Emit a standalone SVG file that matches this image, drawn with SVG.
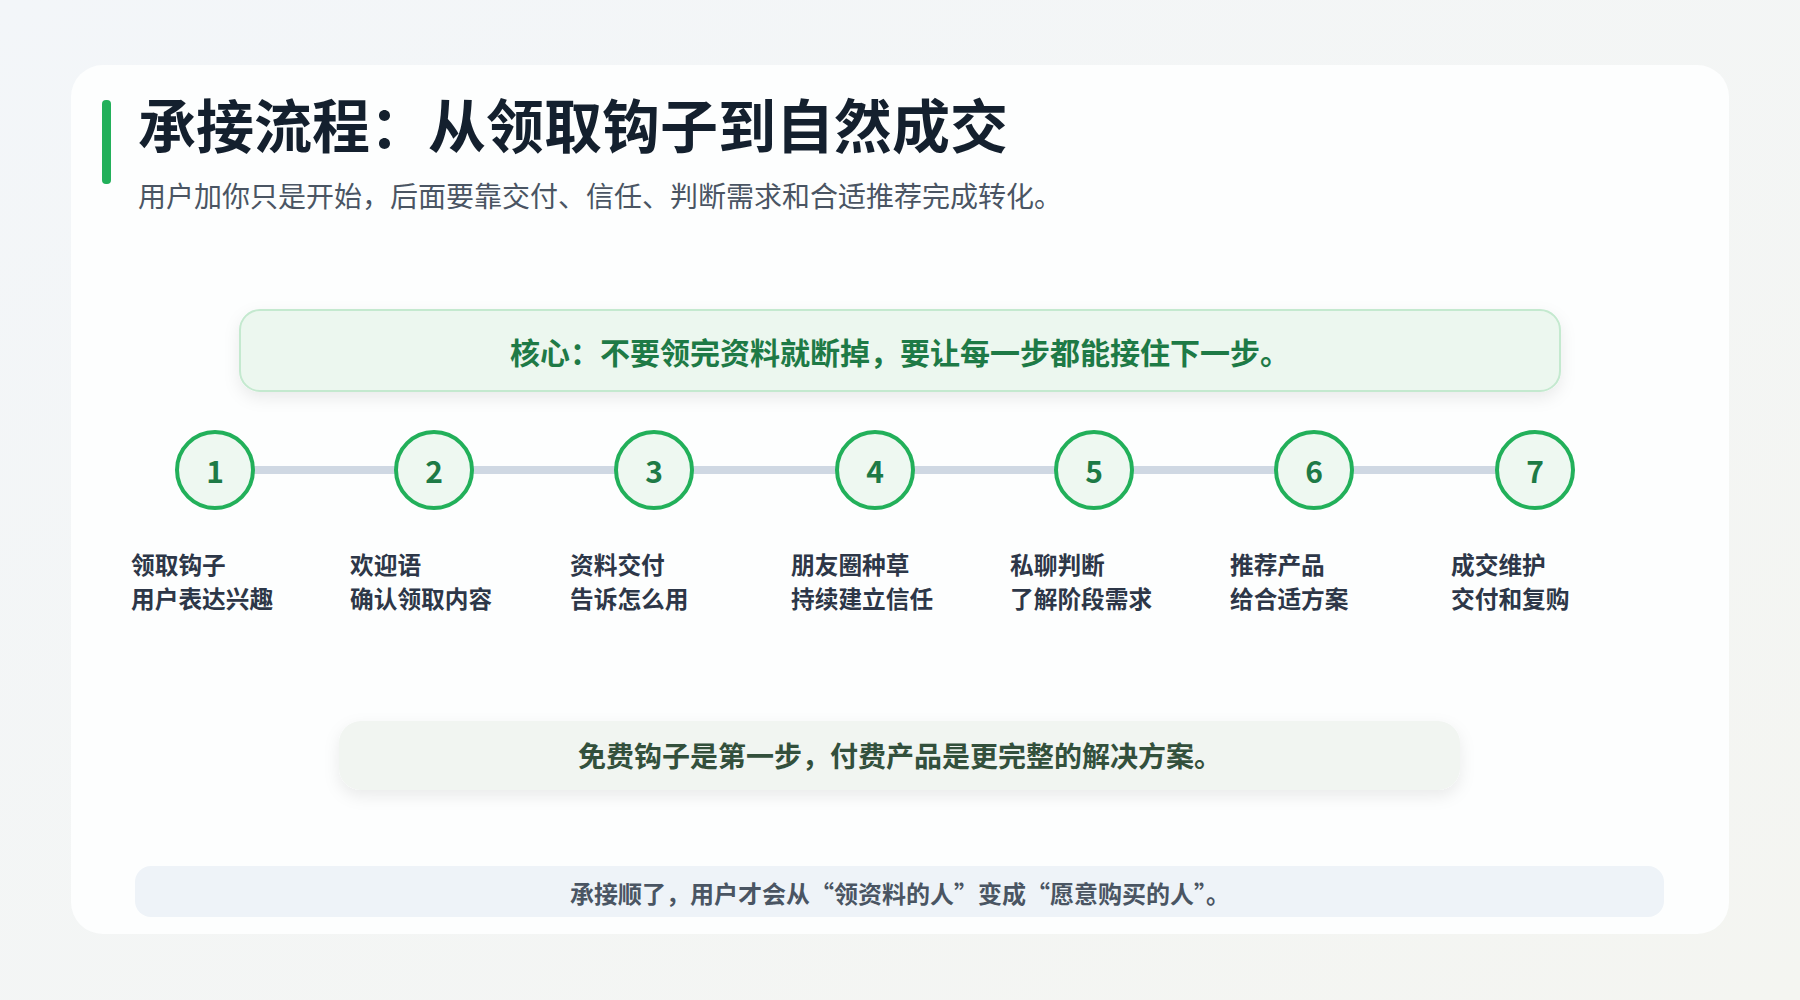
<svg xmlns="http://www.w3.org/2000/svg" width="1800" height="1000" viewBox="0 0 1800 1000">
<defs>
<linearGradient id="bg" x1="0" y1="0" x2="1" y2="1"><stop offset="0" stop-color="#f3f6f9"/><stop offset="1" stop-color="#f4f5f1"/></linearGradient>
<filter id="sh" x="-10%" y="-30%" width="120%" height="160%"><feDropShadow dx="0" dy="6" stdDeviation="8" flood-color="#000" flood-opacity="0.08"/></filter>
<style>
text{font-family:"Noto Sans CJK SC","Noto Sans",sans-serif}
.num{font-size:30px;font-weight:700;fill:#1e7a46;text-anchor:middle;dominant-baseline:central}
.c{fill:#eef8f1;stroke:#22b05a;stroke-width:4}
.lb{font-size:23.7px;font-weight:700;fill:#2d3748}
</style>
</defs>
<rect width="1800" height="1000" fill="url(#bg)"/>
<rect x="71" y="65" width="1658" height="869" rx="32" fill="#fdfefe"/>
<rect x="102" y="100" width="9" height="84" rx="4" fill="#22b05a"/>
<text x="138" y="148" font-size="58" font-weight="700" fill="#14202e">承接流程：从领取钩子到自然成交</text>
<text x="138" y="207" font-size="28" fill="#4a5563">用户加你只是开始，后面要靠交付、信任、判断需求和合适推荐完成转化。</text>
<g id="core"><rect x="240" y="310" width="1320" height="81" rx="20" fill="#ecf7ef" stroke="#c4e9cf" stroke-width="2" filter="url(#sh)"/>
<text x="900" y="351" font-size="30" font-weight="700" fill="#1e7a46" text-anchor="middle" dominant-baseline="central">核心：不要领完资料就断掉，要让每一步都能接住下一步。</text></g>
<g id="connectors"><line x1="215" y1="470" x2="1535" y2="470" stroke="#cfd8e3" stroke-width="8"/></g>
<g id="s1"><circle class="c" cx="215" cy="470" r="38"/><text class="num" x="215" y="470">1</text><text class="lb" x="131" y="574">领取钩子</text><text class="lb" x="131" y="608">用户表达兴趣</text></g>
<g id="s2"><circle class="c" cx="434" cy="470" r="38"/><text class="num" x="434" y="470">2</text><text class="lb" x="350" y="574">欢迎语</text><text class="lb" x="350" y="608">确认领取内容</text></g>
<g id="s3"><circle class="c" cx="654" cy="470" r="38"/><text class="num" x="654" y="470">3</text><text class="lb" x="570" y="574">资料交付</text><text class="lb" x="570" y="608">告诉怎么用</text></g>
<g id="s4"><circle class="c" cx="875" cy="470" r="38"/><text class="num" x="875" y="470">4</text><text class="lb" x="791" y="574">朋友圈种草</text><text class="lb" x="791" y="608">持续建立信任</text></g>
<g id="s5"><circle class="c" cx="1094" cy="470" r="38"/><text class="num" x="1094" y="470">5</text><text class="lb" x="1010" y="574">私聊判断</text><text class="lb" x="1010" y="608">了解阶段需求</text></g>
<g id="s6"><circle class="c" cx="1314" cy="470" r="38"/><text class="num" x="1314" y="470">6</text><text class="lb" x="1230" y="574">推荐产品</text><text class="lb" x="1230" y="608">给合适方案</text></g>
<g id="s7"><circle class="c" cx="1535" cy="470" r="38"/><text class="num" x="1535" y="470">7</text><text class="lb" x="1451" y="574">成交维护</text><text class="lb" x="1451" y="608">交付和复购</text></g>
<g id="note"><rect x="339" y="721" width="1121" height="69" rx="22" fill="#f1f5f1" filter="url(#sh)"/>
<text x="900" y="755" font-size="28" font-weight="700" fill="#33503c" text-anchor="middle" dominant-baseline="central">免费钩子是第一步，付费产品是更完整的解决方案。</text></g>
<g id="footer"><rect x="135" y="866" width="1529" height="51" rx="16" fill="#eef3f8"/>
<text x="900" y="892" font-size="24" font-weight="700" fill="#4a5563" text-anchor="middle" dominant-baseline="central">承接顺了，用户才会从“领资料的人”变成“愿意购买的人”。</text></g>
</svg>
